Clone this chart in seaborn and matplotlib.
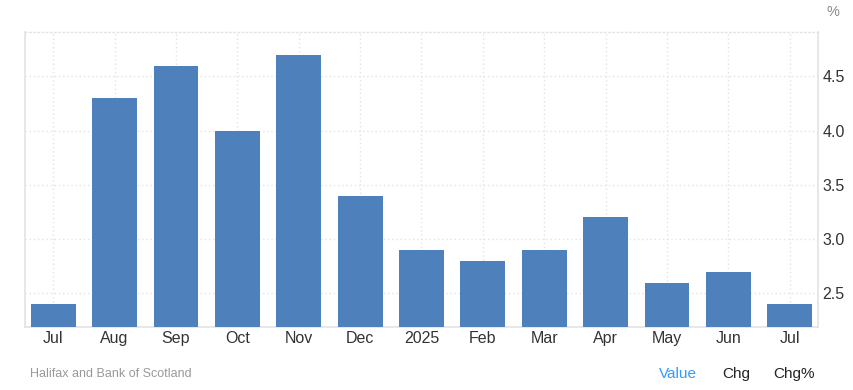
import matplotlib
matplotlib.use("Agg")
import matplotlib.pyplot as plt
import seaborn as sns
import pandas as pd

keys = ["Jul24", "Aug", "Sep", "Oct", "Nov", "Dec", "2025", "Feb", "Mar", "Apr", "May", "Jun", "Jul25"]
labels = ["Jul", "Aug", "Sep", "Oct", "Nov", "Dec", "2025", "Feb", "Mar", "Apr", "May", "Jun", "Jul"]
values = [2.4, 4.3, 4.6, 4.0, 4.7, 3.4, 2.9, 2.8, 2.9, 3.2, 2.6, 2.7, 2.4]
yticks = [2.5, 3.0, 3.5, 4.0, 4.5]

sns.set_theme(style="white")
plt.rcParams['font.family'] = ['Liberation Sans', 'DejaVu Sans']

df = pd.DataFrame({"key": keys, "value": values})

fig = plt.figure(figsize=(8.54, 3.90), dpi=100)
ax = fig.add_axes([25/854, 63/390, 793/854, 295/390])

sns.barplot(data=df, x="key", y="value", order=keys, color="#4e80bc",
            saturation=1, width=0.73, linewidth=0, ax=ax, zorder=3)

ax.set_ylim(2.19, 4.91)
ax.set_xlim(-0.46, len(keys) - 0.54)
ax.set_yticks(yticks)
ax.set_yticklabels([f"{v:.1f}" for v in yticks])
ax.set_xticks(range(len(keys)))
ax.set_xticklabels(labels)
ax.yaxis.tick_right()
ax.tick_params(axis="y", length=0, pad=3, labelsize=11.5, labelcolor="#333333")
ax.tick_params(axis="x", length=0, pad=3, labelsize=11.5, labelcolor="#333333")
ax.set_xlabel("")
ax.set_ylabel("")

ax.grid(True, axis="both", color="#e3e3e3", linestyle=(0, (1, 2)), linewidth=1)
ax.set_axisbelow(True)

for s in ["left", "right", "bottom"]:
    ax.spines[s].set_color("#e3e3e3")
    ax.spines[s].set_linewidth(1.2)
ax.spines["top"].set_color("#e3e3e3")
ax.spines["top"].set_linestyle((0, (1, 2)))
ax.spines["top"].set_linewidth(1)

fig.text(833/854, 1 - 12/390, "%", ha="center", va="center", fontsize=10.5, color="#888888")
fig.text(30/854, 1 - 374/390, "Halifax and Bank of Scotland", ha="left", va="center",
         fontsize=9, color="#999999")
fig.text(678/854, 1 - 374/390, "Value", ha="center", va="center", fontsize=11, color="#3399ff")
fig.text(736/854, 1 - 374/390, "Chg", ha="center", va="center", fontsize=11, color="#222222")
fig.text(794/854, 1 - 374/390, "Chg%", ha="center", va="center", fontsize=11, color="#222222")

fig.savefig("out.png", dpi=100)
